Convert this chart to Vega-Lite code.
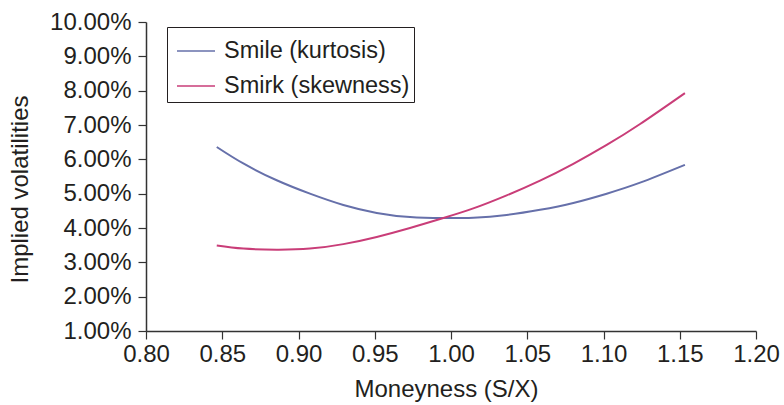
{
  "$schema": "https://vega.github.io/schema/vega-lite/v6.json",
  "width": 610,
  "height": 309,
  "autosize": {"type": "none"},
  "padding": {"left": 146, "top": 22, "right": 28, "bottom": 74},
  "background": "white",
  "config": {
    "view": {"stroke": null},
    "font": "Liberation Sans"
  },
  "data": {
    "values": [
      {"m": 0.8464, "v": 0.0636, "s": "Smile (kurtosis)"},
      {"m": 0.8638, "v": 0.0588, "s": "Smile (kurtosis)"},
      {"m": 0.8857, "v": 0.0539, "s": "Smile (kurtosis)"},
      {"m": 0.9075, "v": 0.0500, "s": "Smile (kurtosis)"},
      {"m": 0.9294, "v": 0.0467, "s": "Smile (kurtosis)"},
      {"m": 0.9513, "v": 0.0444, "s": "Smile (kurtosis)"},
      {"m": 0.9731, "v": 0.0432, "s": "Smile (kurtosis)"},
      {"m": 0.9950, "v": 0.0429, "s": "Smile (kurtosis)"},
      {"m": 1.0146, "v": 0.0430, "s": "Smile (kurtosis)"},
      {"m": 1.0365, "v": 0.0438, "s": "Smile (kurtosis)"},
      {"m": 1.0584, "v": 0.0453, "s": "Smile (kurtosis)"},
      {"m": 1.0802, "v": 0.0473, "s": "Smile (kurtosis)"},
      {"m": 1.1021, "v": 0.0500, "s": "Smile (kurtosis)"},
      {"m": 1.1240, "v": 0.0532, "s": "Smile (kurtosis)"},
      {"m": 1.1534, "v": 0.0584, "s": "Smile (kurtosis)"},
      {"m": 0.8464, "v": 0.0349, "s": "Smirk (skewness)"},
      {"m": 0.8638, "v": 0.0340, "s": "Smirk (skewness)"},
      {"m": 0.8857, "v": 0.0337, "s": "Smirk (skewness)"},
      {"m": 0.9075, "v": 0.0340, "s": "Smirk (skewness)"},
      {"m": 0.9294, "v": 0.0353, "s": "Smirk (skewness)"},
      {"m": 0.9513, "v": 0.0374, "s": "Smirk (skewness)"},
      {"m": 0.9731, "v": 0.0400, "s": "Smirk (skewness)"},
      {"m": 0.9950, "v": 0.0429, "s": "Smirk (skewness)"},
      {"m": 1.0146, "v": 0.0457, "s": "Smirk (skewness)"},
      {"m": 1.0365, "v": 0.0495, "s": "Smirk (skewness)"},
      {"m": 1.0584, "v": 0.0538, "s": "Smirk (skewness)"},
      {"m": 1.0802, "v": 0.0587, "s": "Smirk (skewness)"},
      {"m": 1.1021, "v": 0.0642, "s": "Smirk (skewness)"},
      {"m": 1.1240, "v": 0.0703, "s": "Smirk (skewness)"},
      {"m": 1.1534, "v": 0.0793, "s": "Smirk (skewness)"}
    ]
  },
  "mark": {"type": "line", "interpolate": "natural", "strokeWidth": 2},
  "encoding": {
    "x": {
      "field": "m", "type": "quantitative",
      "scale": {"domain": [0.8, 1.2], "nice": false, "zero": false},
      "axis": {
        "title": "Moneyness (S/X)",
        "values": [0.8, 0.85, 0.9, 0.95, 1.0, 1.05, 1.1, 1.15, 1.2],
        "format": ".2f",
        "grid": false,
        "domainColor": "#333333", "domainWidth": 1.5,
        "tickColor": "#333333", "tickSize": 8, "tickWidth": 1.2,
        "labelFont": "Liberation Sans", "labelFontSize": 24, "labelColor": "#231f20",
        "labelPadding": 3, "labelFlush": false,
        "titleFont": "Liberation Sans", "titleFontSize": 24, "titleFontWeight": "normal",
        "titleColor": "#231f20", "titlePadding": 11, "titleX": 300
      }
    },
    "y": {
      "field": "v", "type": "quantitative",
      "scale": {"domain": [0.01, 0.1], "nice": false, "zero": false},
      "axis": {
        "title": "Implied volatilities",
        "values": [0.01, 0.02, 0.03, 0.04, 0.05, 0.06, 0.07, 0.08, 0.09, 0.1],
        "format": ".2%",
        "grid": false,
        "domainColor": "#333333", "domainWidth": 1.5,
        "tickColor": "#333333", "tickSize": 8, "tickWidth": 1.2,
        "labelFont": "Liberation Sans", "labelFontSize": 24, "labelColor": "#231f20",
        "labelPadding": 7,
        "titleFont": "Liberation Sans", "titleFontSize": 24, "titleFontWeight": "normal",
        "titleColor": "#231f20", "titlePadding": 17, "titleY": 167
      }
    },
    "color": {
      "field": "s", "type": "nominal",
      "scale": {"domain": ["Smile (kurtosis)", "Smirk (skewness)"], "range": ["#6670AA", "#C93D78"]},
      "legend": {
        "title": null,
        "orient": "none",
        "legendX": 21,
        "legendY": 5,
        "direction": "vertical",
        "symbolType": "stroke",
        "symbolSize": 1444,
        "symbolStrokeWidth": 1.5,
        "symbolOffset": 5,
        "labelFont": "Liberation Sans",
        "labelFontSize": 23.5,
        "labelColor": "#231f20",
        "labelOffset": 8,
        "labelLimit": 400,
        "rowPadding": 3,
        "padding": 4,
        "strokeColor": "#231f20",
        "fillColor": "white"
      }
    }
  }
}
